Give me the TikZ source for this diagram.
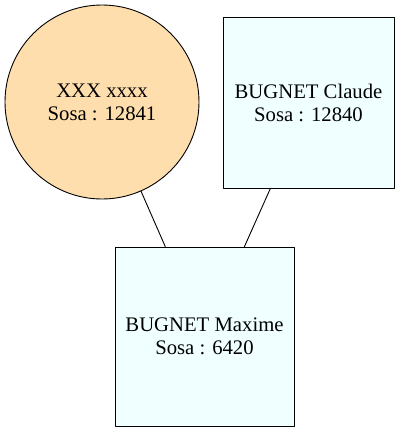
\documentclass[tikz,border=0pt]{standalone}
\usepackage{fontspec}
\setmainfont{Liberation Serif}
\usepackage{tikz}
\definecolor{ffdead}{rgb}{1,0.871,0.678}
\definecolor{foffff}{rgb}{0.941,1,1}

\begin{document}
\begin{tikzpicture}[line cap=round,line join=round,x=1pt,y=-1pt,
  person/.style={draw=black,line width=0.9pt,align=center,inner sep=0pt,
    font=\fontsize{20.7}{23}\selectfont},
  woman/.style={person,circle,fill=ffdead,minimum size=194pt},
  man/.style={person,rectangle,fill=foffff}]
  \useasboundingbox (0,0) rectangle (400,432);
  \node[woman] (mother) at (102,102) {XXX xxxx\\Sosa : 12841};
  \node[man,minimum size=171pt] (father) at (308.5,102.5) {BUGNET Claude\\Sosa : 12840};
  \node[man,minimum size=179pt] (child) at (204.5,336.5) {BUGNET Maxime\\Sosa : 6420};
  \draw[line width=0.9pt] (mother) -- (child);
  \draw[line width=0.9pt] (father) -- (child);
\end{tikzpicture}
\end{document}
